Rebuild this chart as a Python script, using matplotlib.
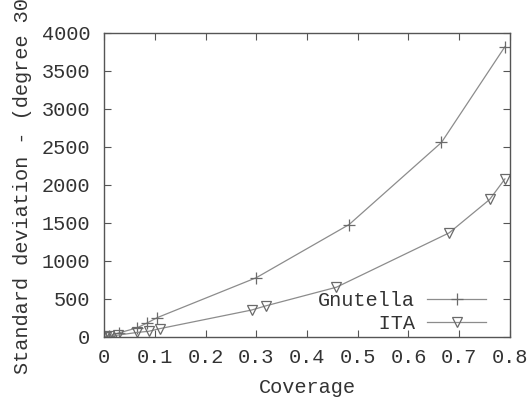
import matplotlib
matplotlib.use("Agg")
import matplotlib.pyplot as plt

# Coverage vs. standard deviation for the two search schemes
gnutella_x = [0.0, 0.003, 0.01, 0.03, 0.065, 0.085, 0.105, 0.30, 0.483, 0.665, 0.79]
gnutella_y = [0, 5, 15, 55, 120, 185, 255, 780, 1480, 2560, 3820]

ita_x = [0.0, 0.003, 0.01, 0.028, 0.065, 0.088, 0.11, 0.291, 0.319, 0.458, 0.68, 0.76, 0.79]
ita_y = [0, 3, 8, 25, 60, 75, 110, 355, 410, 655, 1370, 1810, 2080]

x_ticks = [0, 0.1, 0.2, 0.3, 0.4, 0.5, 0.6, 0.7, 0.8]
x_tick_labels = ["0", "0.1", "0.2", "0.3", "0.4", "0.5", "0.6", "0.7", "0.8"]
y_ticks = [0, 500, 1000, 1500, 2000, 2500, 3000, 3500, 4000]

series_labels = ["Gnutella", "ITA"]

FONT = "Liberation Mono"
TEXT_COLOR = "#333333"
LINE_COLOR = "#8c8c8c"
FRAME_COLOR = "#555555"
FS = 14.6

plt.rcParams["font.family"] = [FONT, "DejaVu Sans Mono"]

fig = plt.figure(figsize=(5.28, 4.01), dpi=100)
ax = fig.add_axes([104 / 528, 1 - 337 / 401, (510 - 104) / 528, (337 - 33) / 401])

ax.plot(gnutella_x, gnutella_y, color=LINE_COLOR, lw=0.9, marker="+",
        ms=8, mew=0.9, mec="#6a6a6a", label=series_labels[0])
ax.plot(ita_x, ita_y, color=LINE_COLOR, lw=0.9, marker="v", ms=7,
        mew=0.9, mfc="none", mec="#6a6a6a",
        label=series_labels[1].rjust(len(series_labels[0])))

ax.set_xlim(0, 0.8)
ax.set_ylim(0, 4000)
ax.set_xticks(x_ticks)
ax.set_xticklabels(x_tick_labels)
ax.set_yticks(y_ticks)

for side in ax.spines.values():
    side.set_color(FRAME_COLOR)
    side.set_linewidth(1.0)

ax.tick_params(direction="in", length=5, width=0.8, color=FRAME_COLOR,
               top=True, right=True, labelsize=FS, labelcolor=TEXT_COLOR)
ax.tick_params(axis="y", pad=10)
ax.tick_params(axis="x", pad=8)

ax.set_xlabel("Coverage", fontsize=FS, color=TEXT_COLOR, labelpad=8)
ax.set_ylabel("Standard deviation - (degree 30)", fontsize=FS,
              color=TEXT_COLOR)
ax.yaxis.label.set_verticalalignment("center")
ax.yaxis.set_label_coords((22 - 104) / 406, 0.515)

leg = ax.legend(loc="lower right", frameon=False, markerfirst=False,
                fontsize=FS, handlelength=2.9, handletextpad=0.6,
                labelspacing=0.18, borderpad=0.0, borderaxespad=0.0,
                bbox_to_anchor=((486 - 104) / 406, (337 - 333) / 304))
for t in leg.get_texts():
    t.set_color(TEXT_COLOR)

fig.savefig("out.png", dpi=100)
